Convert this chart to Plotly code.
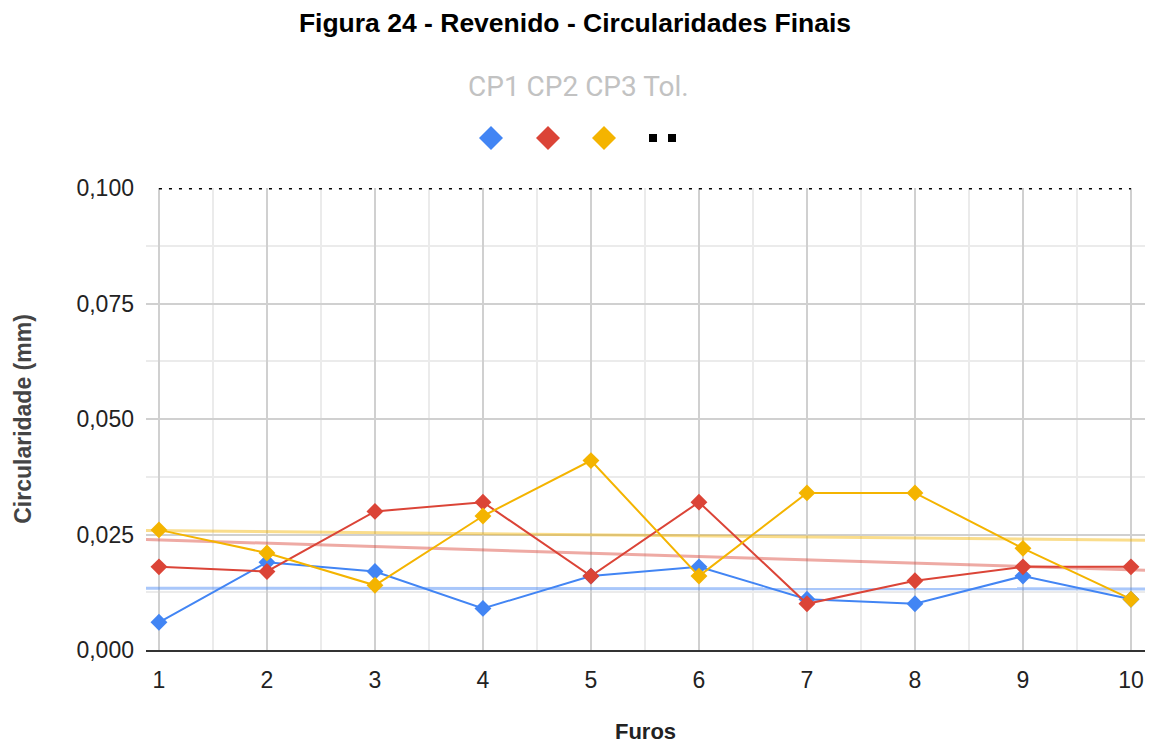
import numpy as np
import plotly.graph_objects as go

furos = [1, 2, 3, 4, 5, 6, 7, 8, 9, 10]
cp1 = [0.006, 0.019, 0.017, 0.009, 0.016, 0.018, 0.011, 0.010, 0.016, 0.011]
cp2 = [0.018, 0.017, 0.030, 0.032, 0.016, 0.032, 0.010, 0.015, 0.018, 0.018]
cp3 = [0.026, 0.021, 0.014, 0.029, 0.041, 0.016, 0.034, 0.034, 0.022, 0.011]
tol = [0.100] * 10
series_names = ["CP1", "CP2", "CP3", "Tol."]
colors = ["#4285F4", "#DB4437", "#F4B400"]

X_RANGE = [0.88, 10.13]
Y_RANGE = [0, 0.100]

# plot-area geometry in pixels (for legend decorations)
L, R, T, B = 146, 1145, 188, 650
W, H = 1150, 744


def px_x(p):
    return (p - L) / (R - L)


def px_y(p):
    return (B - p) / (B - T)


fig = go.Figure()

# linear trendlines across the full x domain
xt = np.array(X_RANGE)
for ys, c in zip([cp1, cp2, cp3], colors):
    k, b0 = np.polyfit(furos, ys, 1)
    fig.add_trace(go.Scatter(x=xt, y=k * xt + b0, mode="lines",
                             line=dict(color=c, width=3), opacity=0.45,
                             hoverinfo="skip", showlegend=False))

# tolerance line
fig.add_trace(go.Scatter(x=furos, y=tol, mode="lines", name="Tol.",
                         line=dict(color="black", width=3, dash="3px,7px"),
                         showlegend=False))

for ys, c, n in zip([cp1, cp2, cp3], colors, series_names):
    fig.add_trace(go.Scatter(x=furos, y=ys, mode="lines+markers", name=n,
                             line=dict(color=c, width=2),
                             marker=dict(symbol="diamond", size=13, color=c),
                             cliponaxis=False, showlegend=False))

fig.update_layout(
    width=W, height=H,
    margin=dict(l=L, r=W - R, t=T, b=H - B),
    paper_bgcolor="white", plot_bgcolor="white",
    separators=",.",
    font=dict(family="Liberation Sans, Arial, sans-serif", size=22, color="#222"),
    title=dict(text="<b>Figura 24 - Revenido - Circularidades Finais</b>",
               x=0.5, xref="container", xanchor="center",
               y=1 - 23 / H, yref="container", yanchor="middle",
               font=dict(size=26.5, color="#000")),
    xaxis=dict(range=X_RANGE, tick0=1, dtick=1, showgrid=True,
               gridcolor="#d0d0d0", gridwidth=2,
               minor=dict(dtick=0.5, tick0=0.5, showgrid=True, gridcolor="#ebebeb", gridwidth=2),
               showline=True, linecolor="#333333", linewidth=2,
               zeroline=False, ticks="", ticklabelstandoff=8,
               tickfont=dict(size=23, color="#222"),
               title=dict(text="<b>Furos</b>", font=dict(size=22, color="#222"), standoff=32)),
    yaxis=dict(range=Y_RANGE, tick0=0, dtick=0.025, tickformat=".3f",
               showgrid=True, gridcolor="#d0d0d0", gridwidth=2,
               minor=dict(dtick=0.0125, showgrid=True, gridcolor="#ebebeb", gridwidth=2),
               showline=False, zeroline=False, ticks="", ticklabelstandoff=11,
               tickfont=dict(size=23, color="#222"),
               title=dict(text="<b>Circularidade (mm)</b>", font=dict(size=23, color="#444"),
                          standoff=38)),
)

# custom top legend: labels row + symbol row
fig.add_annotation(text=" ".join(series_names), x=px_x(578), y=px_y(87),
                   xref="paper", yref="paper", showarrow=False,
                   xanchor="center", yanchor="middle",
                   font=dict(family="Roboto, sans-serif", size=28, color="#c2c2c2"))
for cx, c in zip([491, 548, 604], colors):
    fig.add_shape(type="path", xref="paper", yref="paper",
                  xsizemode="pixel", ysizemode="pixel",
                  xanchor=px_x(cx), yanchor=px_y(138),
                  path="M 0,12 L 12,0 L 0,-12 L -12,0 Z",
                  fillcolor=c, line=dict(width=0))
for cx in [653, 672]:
    fig.add_shape(type="path", xref="paper", yref="paper",
                  xsizemode="pixel", ysizemode="pixel",
                  xanchor=px_x(cx), yanchor=px_y(138),
                  path="M -4,-4 L 4,-4 L 4,4 L -4,4 Z",
                  fillcolor="black", line=dict(width=0))

fig.write_html("out.html", config={"displayModeBar": False},
               post_script="document.body.style.margin='0';document.body.style.overflow='hidden';")
